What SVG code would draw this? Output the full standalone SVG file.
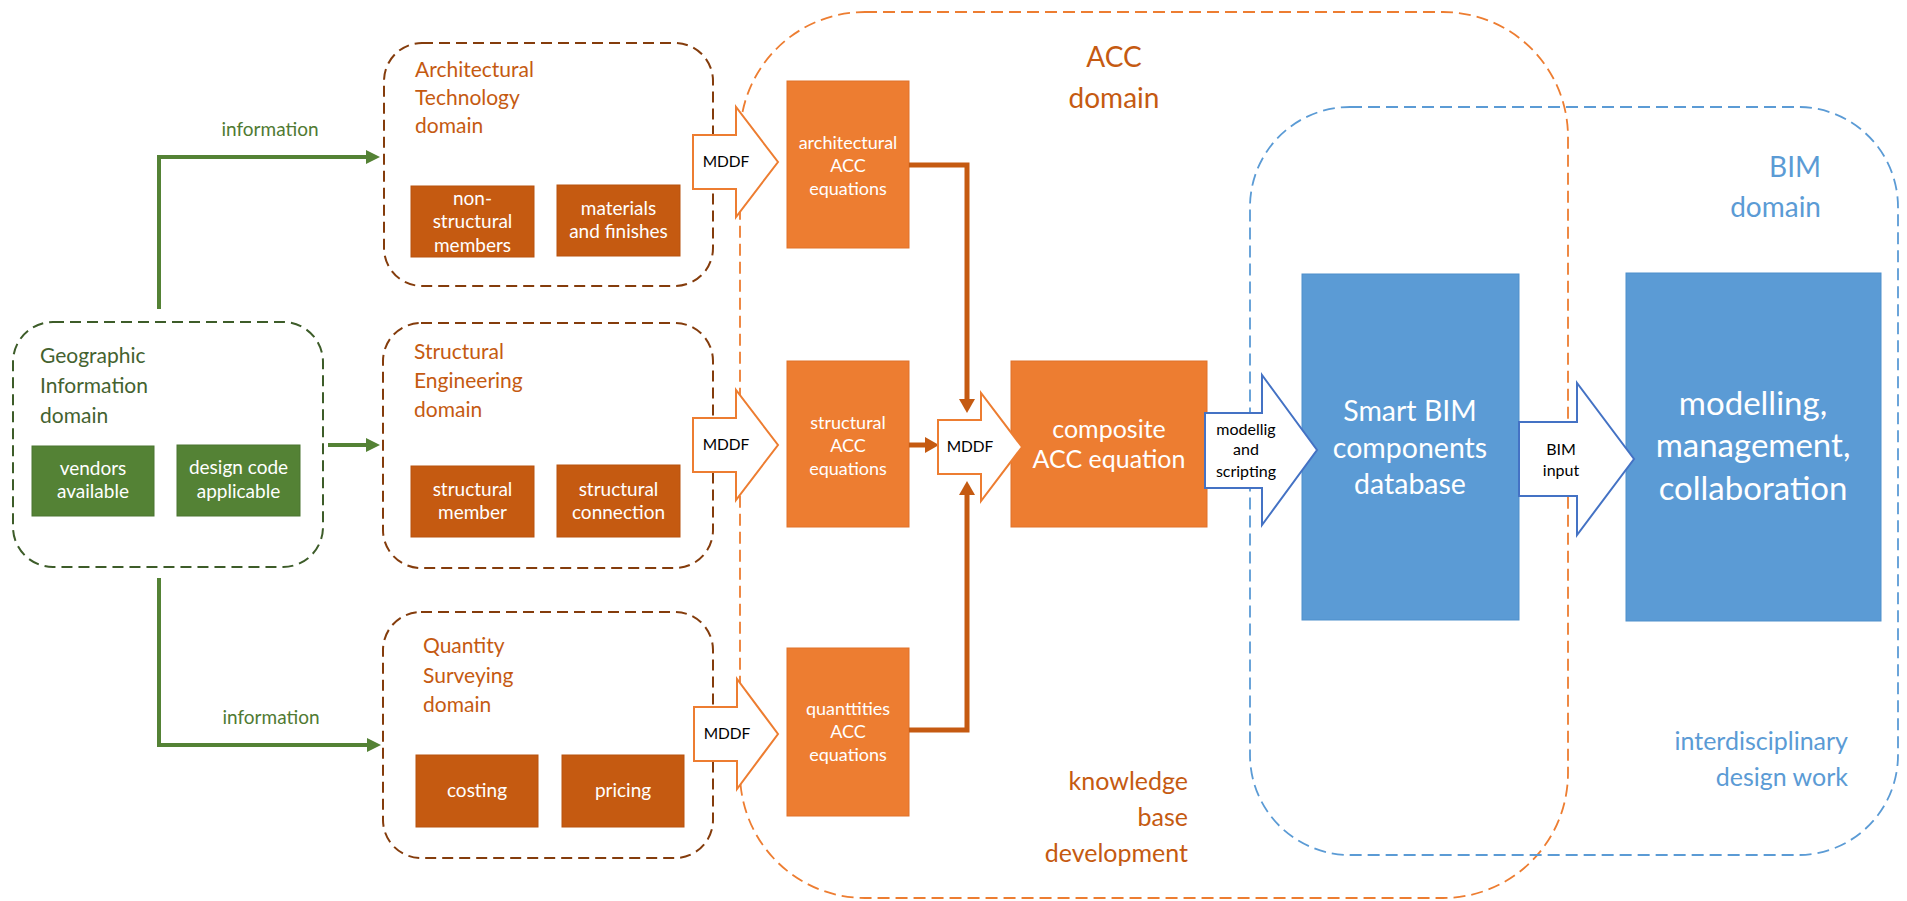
<svg xmlns="http://www.w3.org/2000/svg" width="1907" height="901" viewBox="0 0 1907 901">
<style>
text{font-family:Lato,"Liberation Sans",sans-serif}
.dom{fill:none;stroke:#843c0c;stroke-width:2;stroke-dasharray:11 6}
.gis{fill:none;stroke:#3d5c29;stroke-width:2;stroke-dasharray:11 6}
.acc{fill:none;stroke:#ed7d31;stroke-width:1.8;stroke-dasharray:12 6}
.bim{fill:none;stroke:#5b9bd5;stroke-width:1.8;stroke-dasharray:12 6}
.gbox{fill:#548235;stroke:#4a7430;stroke-width:1}
.bbox{fill:#c55a11;stroke:#b8520e;stroke-width:1}
.obox{fill:#ed7d31;stroke:#e0722a;stroke-width:1}
.blbox{fill:#5b9bd5;stroke:#4f8fcb;stroke-width:1}
.wt{fill:#ffffff;text-anchor:middle}
.dt{fill:#c55a11;font-size:21px}
.gt{fill:#44622f;font-size:21px}
.sub{font-size:19px}
.eq{font-size:18px}
.oarr{fill:#ffffff;stroke:#ed7d31;stroke-width:2}
.barr{fill:#ffffff;stroke:#4472c4;stroke-width:2}
.gline{fill:none;stroke:#548235;stroke-width:4}
.oline{fill:none;stroke:#c55a11;stroke-width:5}
.lbl{fill:#000000;text-anchor:middle}
</style>
<defs>
<marker id="gh" markerUnits="userSpaceOnUse" markerWidth="14" markerHeight="14" refX="2" refY="7" orient="auto"><path d="M0,0 L14,7 L0,14 z" fill="#548235"/></marker>
<marker id="oh" markerUnits="userSpaceOnUse" markerWidth="14" markerHeight="16" refX="2" refY="8" orient="auto"><path d="M0,0 L14,8 L0,16 z" fill="#c55a11"/></marker>
</defs>

<g id="acc-domain">
<rect class="acc" x="740" y="12" width="828" height="886" rx="125" ry="125"/>
<text x="1114" y="67" font-size="28" fill="#c55a11" text-anchor="middle">ACC</text>
<text x="1114" y="108" font-size="28" fill="#c55a11" text-anchor="middle">domain</text>
<text x="1188" y="790" font-size="25" fill="#c55a11" text-anchor="end">knowledge</text>
<text x="1188" y="826" font-size="25" fill="#c55a11" text-anchor="end">base</text>
<text x="1188" y="862" font-size="25" fill="#c55a11" text-anchor="end">development</text>
</g>

<g id="bim-domain">
<rect class="bim" x="1250" y="107" width="648" height="748" rx="100" ry="100"/>
<text x="1821" y="177" font-size="28" fill="#5b9bd5" text-anchor="end">BIM</text>
<text x="1821" y="217" font-size="28" fill="#5b9bd5" text-anchor="end">domain</text>
<text x="1848" y="750" font-size="25" fill="#5b9bd5" text-anchor="end">interdisciplinary</text>
<text x="1848" y="786" font-size="25" fill="#5b9bd5" text-anchor="end">design work</text>
</g>

<g id="gis-domain">
<rect class="gis" x="13" y="322" width="310" height="245" rx="40" ry="40"/>
<text class="gt" x="40" y="363">Geographic</text>
<text class="gt" x="40" y="393">Information</text>
<text class="gt" x="40" y="423">domain</text>
</g>
<g id="vendors">
<rect class="gbox" x="32" y="446" width="122" height="70"/>
<text class="wt sub" x="93" y="475">vendors</text>
<text class="wt sub" x="93" y="498">available</text>
</g>
<g id="design-code">
<rect class="gbox" x="177" y="445" width="123" height="71"/>
<text class="wt sub" x="238.5" y="474">design code</text>
<text class="wt sub" x="238.5" y="498">applicable</text>
</g>

<g id="arch-domain">
<rect class="dom" x="384" y="43" width="329" height="243" rx="38" ry="38"/>
<text class="dt" x="415" y="77">Architectural</text>
<text class="dt" x="415" y="105">Technology</text>
<text class="dt" x="415" y="133">domain</text>
</g>
<g id="non-structural">
<rect class="bbox" x="411" y="186" width="123" height="71"/>
<text class="wt sub" x="472.5" y="205">non-</text>
<text class="wt sub" x="472.5" y="228">structural</text>
<text class="wt sub" x="472.5" y="252">members</text>
</g>
<g id="materials">
<rect class="bbox" x="557" y="185" width="123" height="71"/>
<text class="wt sub" x="618.5" y="215">materials</text>
<text class="wt sub" x="618.5" y="238">and finishes</text>
</g>

<g id="struct-domain">
<rect class="dom" x="383" y="323" width="330" height="245" rx="38" ry="38"/>
<text class="dt" x="414" y="359">Structural</text>
<text class="dt" x="414" y="388">Engineering</text>
<text class="dt" x="414" y="417">domain</text>
</g>
<g id="structural-member">
<rect class="bbox" x="411" y="466" width="123" height="71"/>
<text class="wt sub" x="472.5" y="496">structural</text>
<text class="wt sub" x="472.5" y="519">member</text>
</g>
<g id="structural-connection">
<rect class="bbox" x="557" y="465" width="123" height="72"/>
<text class="wt sub" x="618.5" y="496">structural</text>
<text class="wt sub" x="618.5" y="519">connection</text>
</g>

<g id="qs-domain">
<rect class="dom" x="383" y="612" width="330" height="246" rx="38" ry="38"/>
<text class="dt" x="423" y="653">Quantity</text>
<text class="dt" x="423" y="683">Surveying</text>
<text class="dt" x="423" y="712">domain</text>
</g>
<g id="costing">
<rect class="bbox" x="416" y="755" width="122" height="72"/>
<text class="wt sub" x="477" y="797">costing</text>
</g>
<g id="pricing">
<rect class="bbox" x="562" y="755" width="122" height="72"/>
<text class="wt sub" x="623" y="797">pricing</text>
</g>

<g id="arch-acc">
<rect class="obox" x="787" y="81" width="122" height="167"/>
<text class="wt eq" x="848" y="149">architectural</text>
<text class="wt eq" x="848" y="172">ACC</text>
<text class="wt eq" x="848" y="195">equations</text>
</g>
<g id="struct-acc">
<rect class="obox" x="787" y="361" width="122" height="166"/>
<text class="wt eq" x="848" y="429">structural</text>
<text class="wt eq" x="848" y="452">ACC</text>
<text class="wt eq" x="848" y="475">equations</text>
</g>
<g id="quant-acc">
<rect class="obox" x="787" y="648" width="122" height="168"/>
<text class="wt eq" x="848" y="715">quanttities</text>
<text class="wt eq" x="848" y="738">ACC</text>
<text class="wt eq" x="848" y="761">equations</text>
</g>
<g id="composite">
<rect class="obox" x="1011" y="361" width="196" height="166"/>
<text class="wt" x="1109" y="438" font-size="25">composite</text>
<text class="wt" x="1109" y="468" font-size="25">ACC equation</text>
</g>
<g id="smart-bim">
<rect class="blbox" x="1302" y="274" width="217" height="346"/>
<text class="wt" x="1410" y="421" font-size="28.5">Smart BIM</text>
<text class="wt" x="1410" y="458" font-size="28.5">components</text>
<text class="wt" x="1410" y="494" font-size="28.5">database</text>
</g>
<g id="modelling">
<rect class="blbox" x="1626" y="273" width="255" height="348"/>
<text class="wt" x="1753" y="415" font-size="33">modelling,</text>
<text class="wt" x="1753" y="457" font-size="33">management,</text>
<text class="wt" x="1753" y="500" font-size="33">collaboration</text>
</g>

<g id="connectors">
<path class="gline" d="M159,309 V157 H368" marker-end="url(#gh)"/>
<text x="270" y="136" font-size="19" fill="#507a32" text-anchor="middle">information</text>
<path class="gline" d="M328,445 H368" marker-end="url(#gh)"/>
<path class="gline" d="M159,578 V745 H369" marker-end="url(#gh)"/>
<text x="271" y="724" font-size="19" fill="#507a32" text-anchor="middle">information</text>

<path class="oarr" d="M693,135 H736 V107 L778,162 L736,217 V189 H693 Z"/>
<text class="lbl" x="726" y="167" font-size="15.5">MDDF</text>
<path class="oarr" d="M693,418 H736 V390 L778,445 L736,500 V472 H693 Z"/>
<text class="lbl" x="726" y="450" font-size="15.5">MDDF</text>
<path class="oarr" d="M694,707 H737 V679 L778,734 L737,789 V761 H694 Z"/>
<text class="lbl" x="727" y="739" font-size="15.5">MDDF</text>

<path class="oline" d="M909,165 H967 V400"/>
<path d="M959,399 L975,399 L967,413 z" fill="#c55a11"/>
<path class="oline" d="M909,730 H967 V494"/>
<path d="M959,495 L975,495 L967,481 z" fill="#c55a11"/>
<path class="oline" d="M909,445 H926"/>
<path d="M925,437 L925,453 L939,445 z" fill="#c55a11"/>

<path class="oarr" d="M938,420 H981 V393 L1022,447 L981,501 V474 H938 Z"/>
<text class="lbl" x="970" y="452" font-size="15.5">MDDF</text>

<path class="barr" d="M1205,413 H1262 V375 L1317,450 L1262,525 V488 H1205 Z"/>
<text class="lbl" x="1246" y="435" font-size="16">modellig</text>
<text class="lbl" x="1246" y="455" font-size="16">and</text>
<text class="lbl" x="1246" y="477" font-size="16">scripting</text>

<path class="barr" d="M1519,422 H1577 V383 L1634,459 L1577,535 V496 H1519 Z"/>
<text class="lbl" x="1561" y="455" font-size="16">BIM</text>
<text class="lbl" x="1561" y="476" font-size="16">input</text>
</g>
</svg>
